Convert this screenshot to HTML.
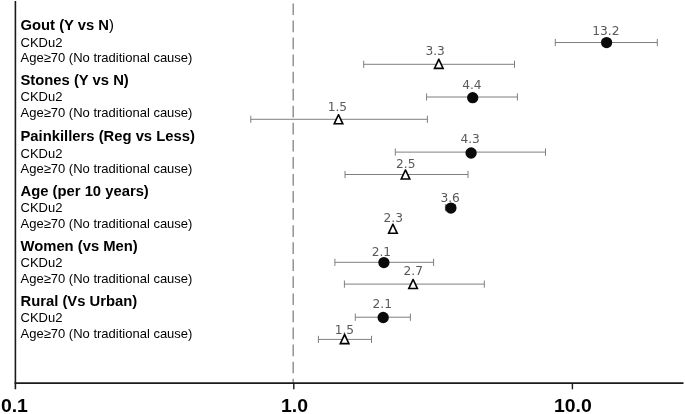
<!DOCTYPE html>
<html lang="en"><head><meta charset="utf-8"><title>Forest plot</title>
<style>
html,body{margin:0;padding:0;background:#fff;}
body{width:685px;height:414px;overflow:hidden;}
svg{display:block;}
.h{font-family:"Liberation Sans",Arial,sans-serif;font-weight:bold;font-size:14.8px;fill:#000;}
.r{font-family:"Liberation Sans",Arial,sans-serif;font-weight:normal;font-size:13px;fill:#000;}
.l{font-family:"DejaVu Sans Condensed","DejaVu Sans","Liberation Sans",sans-serif;font-size:13.0px;fill:#595959;}
.a{font-family:"Liberation Sans",Arial,sans-serif;font-weight:bold;font-size:18px;fill:#000;}
</style></head><body>
<svg width="685" height="414" viewBox="0 0 685 414">
<rect x="0" y="0" width="685" height="414" fill="#ffffff"/>
<line x1="293.2" y1="3.4" x2="293.2" y2="383" stroke="#8c8c8c" stroke-width="1.4" stroke-dasharray="11.7 5.36"/>
<line x1="15.4" y1="1" x2="15.4" y2="389.3" stroke="#1a1a1a" stroke-width="1.6"/>
<line x1="14.6" y1="383.1" x2="683.5" y2="383.1" stroke="#1a1a1a" stroke-width="1.6"/>
<line x1="293.8" y1="383" x2="293.8" y2="389.3" stroke="#1a1a1a" stroke-width="1.4"/>
<line x1="572.4" y1="383" x2="572.4" y2="389.3" stroke="#1a1a1a" stroke-width="1.4"/>
<text class="a" transform="translate(14.4 412.3) scale(1.08 1)" x="0" y="0" text-anchor="middle">0.1</text>
<text class="a" transform="translate(294.5 412.3) scale(1.08 1)" x="0" y="0" text-anchor="middle">1.0</text>
<text class="a" transform="translate(572.8 412.3) scale(1.08 1)" x="0" y="0" text-anchor="middle">10.0</text>
<text x="20.5" y="30.1"><tspan class="h">Gout (Y vs N</tspan><tspan class="r" style="font-size:14.8px">)</tspan></text>
<text class="r" x="20.5" y="46.5">CKDu2</text>
<text class="r" x="20.5" y="62.2">Age≥70 (No traditional cause)</text>
<text class="h" x="20.5" y="85.0">Stones (Y vs N)</text>
<text class="r" x="20.5" y="101.2">CKDu2</text>
<text class="r" x="20.5" y="117.1">Age≥70 (No traditional cause)</text>
<text class="h" x="20.5" y="141.2">Painkillers (Reg vs Less)</text>
<text class="r" x="20.5" y="157.6">CKDu2</text>
<text class="r" x="20.5" y="173.3">Age≥70 (No traditional cause)</text>
<text class="h" x="20.5" y="195.9">Age (per 10 years)</text>
<text class="r" x="20.5" y="212.2">CKDu2</text>
<text class="r" x="20.5" y="228.0">Age≥70 (No traditional cause)</text>
<text class="h" x="20.5" y="250.8">Women (vs Men)</text>
<text class="r" x="20.5" y="267.1">CKDu2</text>
<text class="r" x="20.5" y="282.9">Age≥70 (No traditional cause)</text>
<text class="h" x="20.5" y="305.6">Rural (Vs Urban)</text>
<text class="r" x="20.5" y="321.9">CKDu2</text>
<text class="r" x="20.5" y="337.7">Age≥70 (No traditional cause)</text>
<path d="M555.3 38.9V46.1M555.3 42.5H657.3M657.3 38.9V46.1" stroke="#7f7f7f" stroke-width="1" fill="none"/>
<text class="l" transform="translate(605.9 34.9) scale(1.045 1)" text-anchor="middle">13.2</text>
<circle cx="606.6" cy="42.55" r="5.65" fill="#0a0a0a"/>
<path d="M363.7 60.7V67.9M363.7 64.3H514.5M514.5 60.7V67.9" stroke="#7f7f7f" stroke-width="1" fill="none"/>
<text class="l" transform="translate(435.1 54.6) scale(1.045 1)" text-anchor="middle">3.3</text>
<path d="M438.25 58.60L439.35 58.60L444.35 69.20L433.25 69.20Z" fill="#000"/>
<path d="M438.80 61.18L441.83 67.60L435.77 67.60Z" fill="#fff"/>
<path d="M426.6 93.4V100.6M426.6 97.0H517.4M517.4 93.4V100.6" stroke="#7f7f7f" stroke-width="1" fill="none"/>
<text class="l" transform="translate(471.9 89.3) scale(1.045 1)" text-anchor="middle">4.4</text>
<circle cx="472.7" cy="97.70" r="5.65" fill="#0a0a0a"/>
<path d="M250.8 115.7V122.9M250.8 119.3H427.4M427.4 115.7V122.9" stroke="#7f7f7f" stroke-width="1" fill="none"/>
<text class="l" transform="translate(337.4 111.4) scale(1.045 1)" text-anchor="middle">1.5</text>
<path d="M337.95 113.90L339.05 113.90L344.05 124.50L332.95 124.50Z" fill="#000"/>
<path d="M338.50 116.48L341.53 122.90L335.47 122.90Z" fill="#fff"/>
<path d="M395.3 148.5V155.7M395.3 152.1H545.5M545.5 148.5V155.7" stroke="#7f7f7f" stroke-width="1" fill="none"/>
<text class="l" transform="translate(470.1 143.1) scale(1.045 1)" text-anchor="middle">4.3</text>
<circle cx="471.1" cy="153.00" r="5.65" fill="#0a0a0a"/>
<path d="M345.0 170.9V178.1M345.0 174.5H468.0M468.0 170.9V178.1" stroke="#7f7f7f" stroke-width="1" fill="none"/>
<text class="l" transform="translate(405.8 167.8) scale(1.045 1)" text-anchor="middle">2.5</text>
<path d="M404.95 169.20L406.05 169.20L411.05 179.80L399.95 179.80Z" fill="#000"/>
<path d="M405.50 171.78L408.53 178.20L402.47 178.20Z" fill="#fff"/>
<path d="M445.4 204.0V211.2M445.4 207.6H455.2M455.2 204.0V211.2" stroke="#7f7f7f" stroke-width="1" fill="none"/>
<text class="l" transform="translate(450.1 201.6) scale(1.045 1)" text-anchor="middle">3.6</text>
<circle cx="450.9" cy="208.10" r="5.65" fill="#0a0a0a"/>
<text class="l" transform="translate(393.3 221.6) scale(1.045 1)" text-anchor="middle">2.3</text>
<path d="M392.35 223.40L393.45 223.40L398.45 234.00L387.35 234.00Z" fill="#000"/>
<path d="M392.90 225.98L395.93 232.40L389.87 232.40Z" fill="#fff"/>
<path d="M334.9 258.7V265.9M334.9 262.3H433.6M433.6 258.7V265.9" stroke="#7f7f7f" stroke-width="1" fill="none"/>
<text class="l" transform="translate(381.4 255.8) scale(1.045 1)" text-anchor="middle">2.1</text>
<circle cx="383.9" cy="262.60" r="5.65" fill="#0a0a0a"/>
<path d="M344.4 280.5V287.7M344.4 284.1H484.3M484.3 280.5V287.7" stroke="#7f7f7f" stroke-width="1" fill="none"/>
<text class="l" transform="translate(413.3 275.3) scale(1.045 1)" text-anchor="middle">2.7</text>
<path d="M412.55 278.70L413.65 278.70L418.65 289.30L407.55 289.30Z" fill="#000"/>
<path d="M413.10 281.28L416.13 287.70L410.07 287.70Z" fill="#fff"/>
<path d="M355.3 313.6V320.8M355.3 317.2H410.4M410.4 313.6V320.8" stroke="#7f7f7f" stroke-width="1" fill="none"/>
<text class="l" transform="translate(382.2 307.5) scale(1.045 1)" text-anchor="middle">2.1</text>
<circle cx="383.2" cy="317.50" r="5.65" fill="#0a0a0a"/>
<path d="M318.4 335.8V343.0M318.4 339.4H371.5M371.5 335.8V343.0" stroke="#7f7f7f" stroke-width="1" fill="none"/>
<text class="l" transform="translate(344.4 333.8) scale(1.045 1)" text-anchor="middle">1.5</text>
<path d="M344.05 333.80L345.15 333.80L350.15 344.40L339.05 344.40Z" fill="#000"/>
<path d="M344.60 336.38L347.63 342.80L341.57 342.80Z" fill="#fff"/>
</svg>
</body></html>
